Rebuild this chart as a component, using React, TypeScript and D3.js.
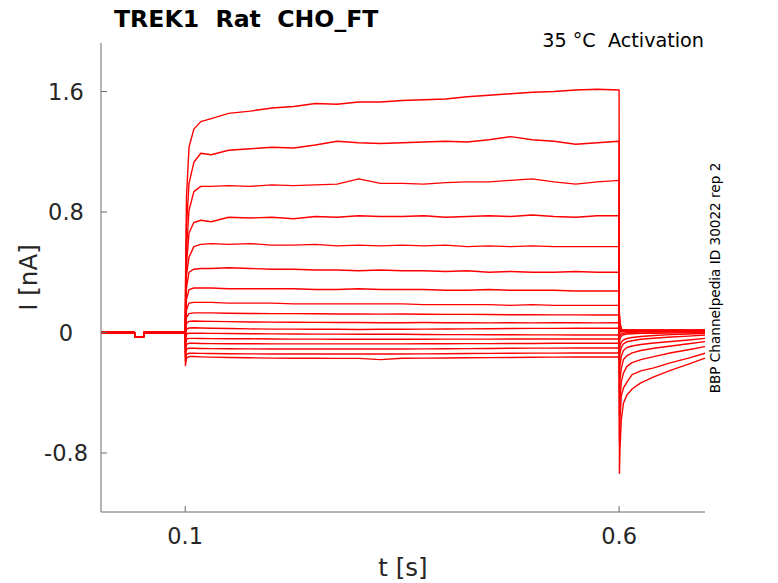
import React from 'react';
import * as d3 from 'd3';

// holding segment shared by all sweeps (t in s, I in nA)
const baseTimes = [0.003, 0.0418, 0.0419, 0.0522, 0.0523, 0.1];
const baseValues = [0, 0, -0.028, -0.028, 0, 0];

// activation step
const stepTimes = [0.1003, 0.1015, 0.1044, 0.11, 0.118, 0.13, 0.15, 0.175, 0.2, 0.225, 0.25, 0.275, 0.3,
  0.325, 0.35, 0.375, 0.4, 0.425, 0.45, 0.475, 0.5, 0.525, 0.55, 0.575, 0.6];
const stepValues = [
  [0.30, 0.90, 1.23, 1.35, 1.40, 1.42, 1.455, 1.47, 1.49, 1.50, 1.52, 1.515, 1.53, 1.53, 1.54, 1.545, 1.55, 1.565, 1.575, 1.585, 1.595, 1.60, 1.61, 1.615, 1.61],
  [0.20, 0.70, 0.99, 1.13, 1.19, 1.18, 1.21, 1.22, 1.23, 1.225, 1.245, 1.27, 1.26, 1.255, 1.26, 1.265, 1.27, 1.265, 1.28, 1.30, 1.28, 1.27, 1.25, 1.26, 1.27],
  [0.15, 0.55, 0.81, 0.935, 0.97, 0.97, 0.975, 0.97, 0.98, 0.975, 0.98, 0.985, 1.02, 0.99, 0.99, 0.985, 0.995, 1.0, 1.0, 1.01, 1.02, 1.0, 0.985, 1.0, 1.01],
  [0.10, 0.45, 0.66, 0.73, 0.745, 0.735, 0.765, 0.76, 0.765, 0.755, 0.77, 0.765, 0.775, 0.77, 0.77, 0.775, 0.765, 0.77, 0.775, 0.77, 0.78, 0.77, 0.765, 0.775, 0.775],
  [0.08, 0.38, 0.50, 0.57, 0.585, 0.59, 0.585, 0.59, 0.58, 0.58, 0.585, 0.575, 0.58, 0.575, 0.58, 0.575, 0.58, 0.57, 0.575, 0.57, 0.575, 0.57, 0.57, 0.57, 0.57],
  [0.06, 0.30, 0.40, 0.42, 0.425, 0.425, 0.43, 0.425, 0.42, 0.42, 0.415, 0.415, 0.41, 0.415, 0.41, 0.41, 0.405, 0.41, 0.40, 0.405, 0.40, 0.40, 0.405, 0.40, 0.40],
  [0.04, 0.22, 0.285, 0.295, 0.295, 0.295, 0.29, 0.29, 0.29, 0.29, 0.285, 0.285, 0.29, 0.285, 0.285, 0.285, 0.28, 0.28, 0.285, 0.28, 0.28, 0.28, 0.275, 0.275, 0.275],
  [0.02, 0.15, 0.195, 0.20, 0.20, 0.20, 0.195, 0.195, 0.195, 0.19, 0.19, 0.19, 0.19, 0.19, 0.19, 0.185, 0.185, 0.185, 0.185, 0.18, 0.185, 0.18, 0.18, 0.18, 0.18],
  [0.0, 0.10, 0.125, 0.13, 0.13, 0.13, 0.128, 0.126, 0.125, 0.125, 0.124, 0.123, 0.123, 0.122, 0.123, 0.121, 0.12, 0.12, 0.119, 0.118, 0.118, 0.117, 0.117, 0.116, 0.116],
  [-0.02, 0.06, 0.074, 0.076, 0.075, 0.074, 0.072, 0.07, 0.069, 0.068, 0.067, 0.066, 0.066, 0.065, 0.065, 0.066, 0.065, 0.065, 0.064, 0.065, 0.064, 0.065, 0.065, 0.064, 0.065],
  [-0.04, 0.02, 0.03, 0.031, 0.03, 0.028, 0.026, 0.024, 0.022, 0.022, 0.021, 0.021, 0.02, 0.021, 0.021, 0.022, 0.023, 0.024, 0.025, 0.026, 0.027, 0.027, 0.028, 0.028, 0.028],
  [-0.07, -0.01, -0.005, -0.004, -0.005, -0.006, -0.007, -0.008, -0.009, -0.01, -0.011, -0.011, -0.012, -0.012, -0.012, -0.013, -0.014, -0.014, -0.015, -0.015, -0.016, -0.016, -0.017, -0.017, -0.017],
  [-0.10, -0.045, -0.039, -0.039, -0.04, -0.041, -0.042, -0.042, -0.043, -0.044, -0.044, -0.045, -0.045, -0.045, -0.045, -0.045, -0.044, -0.044, -0.044, -0.043, -0.043, -0.043, -0.043, -0.043, -0.043],
  [-0.13, -0.078, -0.072, -0.072, -0.073, -0.074, -0.075, -0.075, -0.076, -0.076, -0.076, -0.076, -0.076, -0.076, -0.076, -0.075, -0.075, -0.074, -0.074, -0.073, -0.073, -0.072, -0.072, -0.072, -0.072],
  [-0.16, -0.11, -0.105, -0.105, -0.106, -0.107, -0.108, -0.109, -0.11, -0.11, -0.11, -0.11, -0.11, -0.11, -0.11, -0.109, -0.108, -0.107, -0.106, -0.105, -0.104, -0.104, -0.103, -0.103, -0.103],
  [-0.19, -0.145, -0.138, -0.138, -0.139, -0.14, -0.141, -0.142, -0.143, -0.143, -0.143, -0.143, -0.143, -0.143, -0.143, -0.142, -0.141, -0.14, -0.139, -0.138, -0.137, -0.137, -0.136, -0.136, -0.136],
  [-0.22, -0.17, -0.16, -0.16, -0.162, -0.164, -0.166, -0.168, -0.17, -0.171, -0.171, -0.172, -0.172, -0.18, -0.171, -0.17, -0.169, -0.168, -0.167, -0.166, -0.165, -0.164, -0.163, -0.163, -0.163],
];

// tail after return to holding
const tailTimes = [0.6004, 0.601, 0.6025, 0.605, 0.609, 0.615, 0.625, 0.64, 0.66, 0.68, 0.699];
const tailValues = [
  [-0.935, -0.78, -0.58, -0.47, -0.415, -0.375, -0.335, -0.295, -0.25, -0.21, -0.17],
  [-0.72, -0.58, -0.42, -0.37, -0.33, -0.28, -0.255, -0.235, -0.20, -0.17, -0.138],
  [-0.55, -0.45, -0.33, -0.27, -0.225, -0.20, -0.18, -0.16, -0.135, -0.115, -0.094],
  [-0.40, -0.32, -0.24, -0.18, -0.155, -0.135, -0.12, -0.105, -0.09, -0.075, -0.061],
  [-0.28, -0.22, -0.16, -0.12, -0.10, -0.09, -0.08, -0.07, -0.06, -0.05, -0.039],
  [-0.18, -0.14, -0.10, -0.075, -0.062, -0.055, -0.045, -0.038, -0.03, -0.024, -0.017],
  [-0.11, -0.09, -0.065, -0.05, -0.04, -0.033, -0.027, -0.02, -0.014, -0.01, -0.005],
  [-0.06, -0.04, -0.025, -0.015, -0.01, -0.008, -0.006, -0.005, -0.004, -0.003, -0.002],
  [-0.03, -0.02, -0.01, -0.005, -0.002, 0, 0.002, 0.002, 0.003, 0.003, 0.003],
  [-0.01, 0.0, 0.005, 0.006, 0.006, 0.006, 0.006, 0.006, 0.006, 0.006, 0.006],
  [0.0, 0.008, 0.01, 0.01, 0.009, 0.009, 0.009, 0.009, 0.009, 0.009, 0.009],
  [0.03, 0.02, 0.013, 0.012, 0.011, 0.011, 0.011, 0.011, 0.011, 0.011, 0.011],
  [0.05, 0.03, 0.015, 0.013, 0.012, 0.012, 0.012, 0.012, 0.012, 0.012, 0.012],
  [0.07, 0.04, 0.017, 0.014, 0.013, 0.013, 0.013, 0.013, 0.013, 0.013, 0.013],
  [0.09, 0.05, 0.019, 0.015, 0.014, 0.014, 0.014, 0.014, 0.014, 0.014, 0.014],
  [0.11, 0.06, 0.02, 0.016, 0.015, 0.015, 0.015, 0.015, 0.015, 0.015, 0.015],
  [0.13, 0.07, 0.022, 0.017, 0.016, 0.016, 0.016, 0.016, 0.016, 0.016, 0.016],
];

const xTicks = [0.1, 0.6];
const yTicks = [-0.8, 0, 0.8, 1.6];

const title = 'TREK1  Rat  CHO_FT';
const subtitle = '35 °C  Activation';
const sideNote = 'BBP Channelpedia ID 30022 rep 2';

const W = 778;
const H = 583;
const font = 'DejaVu Sans, sans-serif';

export default function App() {
  const x = d3.scaleLinear().domain([0.003, 0.699]).range([101, 705]);
  const y = d3.scaleLinear().domain([-1.192, 1.922]).range([512, 43]);

  const line = d3.line<[number, number]>()
    .x(d => x(d[0]))
    .y(d => y(d[1]));

  const sweeps = stepValues.map((vals, i) => {
    const pts: [number, number][] = [];
    baseTimes.forEach((t, j) => pts.push([t, baseValues[j]]));
    stepTimes.forEach((t, j) => pts.push([t, vals[j]]));
    tailTimes.forEach((t, j) => pts.push([t, tailValues[i][j]]));
    return pts;
  });

  const [x0, x1] = x.range();
  const [yb, yt] = y.range();
  const axisColor = '#6b6b6b';
  const textColor = '#262626';

  return (
    <svg width={W} height={H} style={{ position: 'absolute', left: 0, top: 0, background: '#fff' }}
      fontFamily={font}>
      <rect width={W} height={H} fill="#fff" />

      {sweeps.map((pts, i) => (
        <path key={i} d={line(pts) || ''} fill="none" stroke="#ff0000" strokeWidth={1.4}
          strokeLinejoin="round" />
      ))}

      {/* axes */}
      <line x1={x0} x2={x0} y1={yt} y2={yb} stroke={axisColor} strokeWidth={1} />
      <line x1={x0} x2={x1} y1={yb} y2={yb} stroke={axisColor} strokeWidth={1} />

      {yTicks.map(t => (
        <g key={t}>
          <line x1={x0} x2={x0 + 6} y1={y(t)} y2={y(t)} stroke={axisColor} />
          <text x={66} y={y(t)} dy="0.36em" textAnchor="middle" fontSize={22.5} fill={textColor}>
            {t === 0 ? '0' : t}
          </text>
        </g>
      ))}
      {xTicks.map(t => (
        <g key={t}>
          <line x1={x(t)} x2={x(t)} y1={yb} y2={yb - 6} stroke={axisColor} />
          <text x={x(t)} y={544} textAnchor="middle" fontSize={22.5} fill={textColor}>{t}</text>
        </g>
      ))}

      <text x={403} y={576} textAnchor="middle" fontSize={24.5} fill={textColor}>t [s]</text>
      <text transform={`translate(37,277.5) rotate(-90)`} textAnchor="middle" fontSize={24.5}
        fill={textColor}>I [nA]</text>

      <text x={114} y={27} fontSize={23.6} fontWeight="bold" fill="#000"
        style={{ whiteSpace: 'pre' }}>{title}</text>
      <text x={704} y={47} textAnchor="end" fontSize={19.2} fill="#000"
        style={{ whiteSpace: 'pre' }}>{subtitle}</text>
      <text transform={`translate(720,278) rotate(-90)`} textAnchor="middle" fontSize={13.6}
        fill="#000">{sideNote}</text>
    </svg>
  );
}
